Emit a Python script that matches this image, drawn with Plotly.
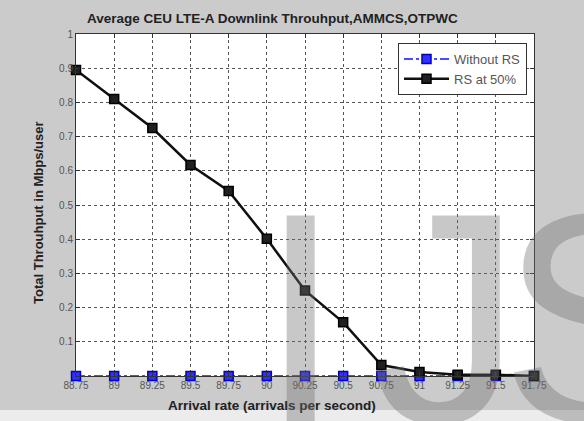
import plotly.graph_objects as go

arrival = [88.75, 89, 89.25, 89.5, 89.75, 90, 90.25, 90.5, 90.75, 91, 91.25, 91.5, 91.75]
tick_labels = ["88.75", "89", "89.25", "89.5", "89.75", "90", "90.25", "90.5", "90.75", "91", "91.25", "91.5", "91.75"]
without_rs = [0, 0, 0, 0, 0, 0, 0, 0, 0, 0, 0, 0, 0]
rs_50 = [0.895, 0.81, 0.725, 0.617, 0.541, 0.401, 0.250, 0.157, 0.032, 0.012, 0.004, 0.004, 0.0]
y_ticks = [0.1, 0.2, 0.3, 0.4, 0.5, 0.6, 0.7, 0.8, 0.9, 1]
y_tick_labels = ["0.1", "0.2", "0.3", "0.4", "0.5", "0.6", "0.7", "0.8", "0.9", "1"]
watermark = ["I", "J", "S"]

W, H = 584, 421
L, R, T, B = 76, 50, 34, 45
PW, PH = W - L - R, H - T - B


def px(xp):
    return (xp - L) / PW


def py(yp):
    return (H - B - yp) / PH


fig = go.Figure()
fig.add_trace(go.Scatter(
    x=arrival, y=without_rs, name="Without RS", mode="lines+markers",
    line=dict(color="#1010ff", width=1.5, dash="dashdot"),
    marker=dict(symbol="square", size=9, color="#3030ff", line=dict(color="#0000c0", width=1.5)),
    cliponaxis=False,
))
fig.add_trace(go.Scatter(
    x=arrival, y=rs_50, name="RS at 50%", mode="lines+markers",
    line=dict(color="#101010", width=2.5),
    marker=dict(symbol="square", size=9, color="#202020", line=dict(color="#000000", width=1.5)),
    cliponaxis=False,
))

fig.update_layout(
    width=W, height=H,
    margin=dict(l=L, r=R, t=T, b=B),
    paper_bgcolor="#cbcbcb",
    plot_bgcolor="#ffffff",
    font=dict(family="Liberation Sans, Arial, sans-serif", color="#333333", size=10),
    showlegend=True,
    legend=dict(x=px(527), xanchor="right", y=py(43), yanchor="top",
                bgcolor="#ffffff", bordercolor="#333333", borderwidth=1,
                font=dict(size=13, color="#555555"), tracegroupgap=0,
                itemwidth=45),
    xaxis=dict(range=[88.75, 91.75], tickvals=arrival, ticktext=tick_labels,
               showgrid=True, gridcolor="#555555", griddash="dot", gridwidth=1,
               zeroline=False, showline=True, linecolor="#333333", mirror="ticks",
               ticks="inside", ticklen=4, tickcolor="#333333",
               tickfont=dict(size=10, color="#555555")),
    yaxis=dict(range=[0, 1], tickvals=y_ticks, ticktext=y_tick_labels,
               showgrid=True, gridcolor="#555555", griddash="dot", gridwidth=1,
               zeroline=False, showline=True, linecolor="#333333", mirror="ticks",
               ticks="inside", ticklen=4, tickcolor="#333333",
               tickfont=dict(size=10, color="#555555")),
)

# lighter strip at the bottom of the figure
fig.add_shape(type="rect", xref="paper", yref="paper", layer="below",
              x0=px(0), x1=px(W), y0=py(H), y1=py(H - 11),
              fillcolor="#ececec", line=dict(width=0))

# title and axis titles
fig.add_annotation(text="<b>Average CEU LTE-A Downlink Throuhput,AMMCS,OTPWC</b>",
                   xref="paper", yref="paper", x=px(272), y=py(18),
                   xanchor="center", yanchor="middle", showarrow=False,
                   font=dict(size=13.5, color="#222222"))
fig.add_annotation(text="<b>Arrival rate (arrivals per second)</b>",
                   xref="paper", yref="paper", x=px(272), y=py(405),
                   xanchor="center", yanchor="middle", showarrow=False,
                   font=dict(size=13.5, color="#222222"))
fig.add_annotation(text="<b>Total Throuhput in Mbps/user</b>",
                   xref="paper", yref="paper", x=px(38), y=py(213),
                   xanchor="center", yanchor="middle", showarrow=False, textangle=-90,
                   font=dict(size=13, color="#222222"))

# watermark letters
for letter, left_px in zip(watermark, [257, 370, 498]):
    fig.add_annotation(text=letter, xref="paper", yref="paper",
                       x=px(left_px), xanchor="left",
                       y=py(148), yanchor="top",
                       showarrow=False,
                       font=dict(size=300, color="rgba(110,110,110,0.38)",
                                 family="Liberation Sans, Arial, sans-serif"))

fig.write_html("out.html")
